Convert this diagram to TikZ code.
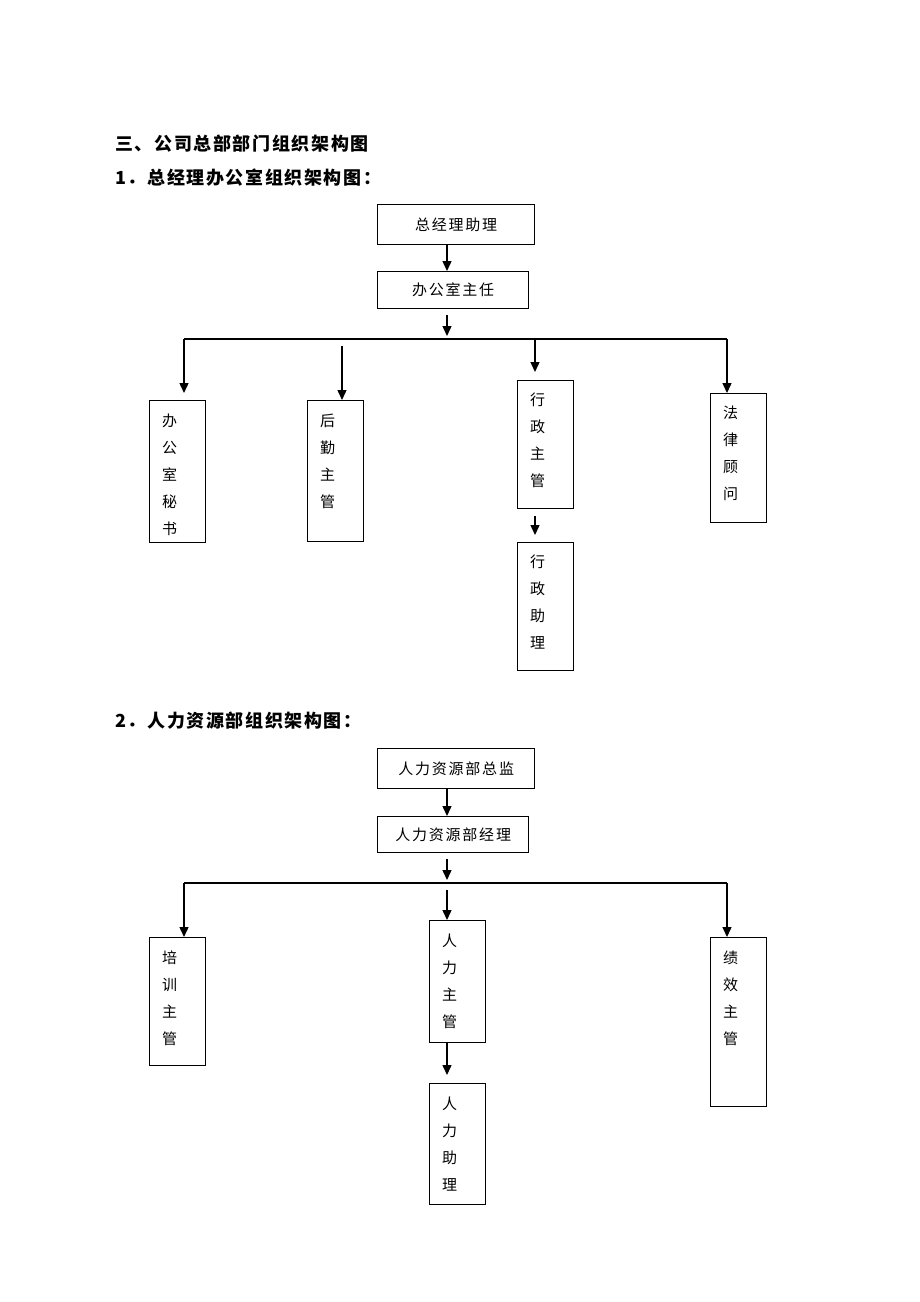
\documentclass[tikz,border=0pt]{standalone}
\usepackage{fontspec}
\newfontfamily\headfont[LetterSpace=9]{Noto Sans CJK SC}
\newfontfamily\boxfont[LetterSpace=12]{Noto Sans CJK SC}
\usetikzlibrary{arrows.meta,positioning}

\tikzset{
  title/.style={anchor=west, inner sep=0pt, font=\headfont\bfseries\fontsize{18}{20}\selectfont},
  hbox/.style={draw, line width=1.3pt, anchor=north west, inner sep=0pt, font=\boxfont\fontsize{15}{17}\selectfont},
  vbox/.style={draw, line width=1.3pt, anchor=north west, minimum width=56pt, inner sep=0pt},
  vtxt/.style={align=center, inner sep=0pt, xshift=-8pt, font=\boxfont\fontsize{15}{27}\selectfont},
  arr/.style={line width=1.4pt, -{Triangle[length=10pt,width=9pt]}},
  busline/.style={line width=1.4pt}
}

\begin{document}
\begin{tikzpicture}[x=1pt,y=-1pt]
\useasboundingbox (0,0) rectangle (920,1302);

% headings
\node[title] (t0) at (115,144) {三、公司总部部门组织架构图};
\node[title] (t1) at (115,178) {1．总经理办公室组织架构图：};

% general manager office
\node[hbox, minimum width=157pt, minimum height=40pt] (zjl) at (377,204) {总经理助理};
\node[hbox, minimum width=151pt, minimum height=37pt] (bgs) at (377,271) {办公室主任};

\node[vbox, minimum height=142pt] (mish) at (149,400) {};
\node[vtxt, below=14pt of mish.north] (mish-t) {办\\公\\室\\秘\\书};
\node[vbox, minimum height=141pt] (hqzg) at (307,400) {};
\node[vtxt, below=14pt of hqzg.north] (hqzg-t) {后\\勤\\主\\管};
\node[vbox, minimum height=128pt] (xzzg) at (517,380) {};
\node[vtxt, below=13pt of xzzg.north] (xzzg-t) {行\\政\\主\\管};
\node[vbox, minimum height=129pt] (flgw) at (710,393) {};
\node[vtxt, below=13pt of flgw.north] (flgw-t) {法\\律\\顾\\问};
\node[vbox, minimum height=128pt] (xzzl) at (517,542) {};
\node[vtxt, below=13pt of xzzl.north] (xzzl-t) {行\\政\\助\\理};

% bus
\coordinate (b1) at (447,339);
\coordinate (b1l) at (184,339);
\coordinate (b1r) at (727,339);
\coordinate (b1x) at (535,339);
\coordinate (b1h) at (342,346);
\draw[busline] (b1l) -- (b1r);

\draw[arr] (zjl.south -| b1) -- (bgs.north -| b1);
\draw[arr, shorten <=6pt, shorten >=3pt] (bgs.south -| b1) -- (b1);
\draw[arr, shorten >=7pt] (b1l) -- (b1l |- mish.north);
\draw[arr] (b1h) -- (b1h |- hqzg.north);
\draw[arr, shorten >=8pt] (b1x) -- (b1x |- xzzg.north);
\draw[arr] (b1r) -- (b1r |- flgw.north);
\draw[arr, shorten <=7pt, shorten >=7pt] (xzzg.south -| b1x) -- (xzzl.north -| b1x);

% human resources
\node[title] (t2) at (115,721) {2．人力资源部组织架构图：};

\node[hbox, minimum width=157pt, minimum height=40pt] (rlzj) at (377,748) {人力资源部总监};
\node[hbox, minimum width=151pt, minimum height=36pt] (rljl) at (377,816) {人力资源部经理};

\node[vbox, minimum height=128pt] (pxzg) at (149,937) {};
\node[vtxt, below=14pt of pxzg.north] (pxzg-t) {培\\训\\主\\管};
\node[vbox, minimum height=122pt] (rlzg) at (429,920) {};
\node[vtxt, below=14pt of rlzg.north] (rlzg-t) {人\\力\\主\\管};
\node[vbox, minimum height=169pt] (jxzg) at (710,937) {};
\node[vtxt, below=14pt of jxzg.north] (jxzg-t) {绩\\效\\主\\管};
\node[vbox, minimum height=121pt] (rlzl) at (429,1083) {};
\node[vtxt, below=14pt of rlzl.north] (rlzl-t) {人\\力\\助\\理};

\coordinate (b2) at (447,883);
\coordinate (b2l) at (184,883);
\coordinate (b2r) at (727,883);
\coordinate (b2m) at (447,890);
\draw[busline] (b2l) -- (b2r);

\draw[arr] (rlzj.south -| b2) -- (rljl.north -| b2);
\draw[arr, shorten <=6pt, shorten >=3pt] (rljl.south -| b2) -- (b2);
\draw[arr] (b2l) -- (b2l |- pxzg.north);
\draw[arr] (b2m) -- (b2m |- rlzg.north);
\draw[arr] (b2r) -- (b2r |- jxzg.north);
\draw[arr, shorten >=8pt] (rlzg.south -| b2m) -- (rlzl.north -| b2m);

\end{tikzpicture}
\end{document}
